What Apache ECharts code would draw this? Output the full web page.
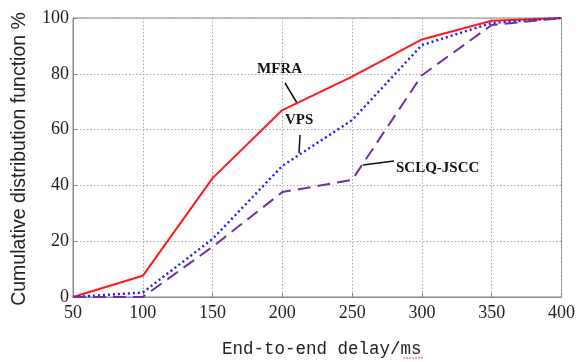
<!DOCTYPE html>
<html><head><meta charset="utf-8">
<script src="https://cdn.jsdelivr.net/npm/echarts@6/dist/echarts.min.js"></script>
<style>html,body{margin:0;padding:0;background:#fff}#c{width:578px;height:362px}</style>
</head><body><div id="c"></div>
<script>
const delays = [50, 100, 150, 200, 250, 300, 350, 400];
const mfra = [0, 7.6, 42.6, 67, 79, 92.3, 99, 100];
const vps = [0, 1.6, 20.8, 47, 63.4, 90.3, 98.2, 100];
const sclq = [0, 0, 18, 37.6, 42, 79.5, 97.5, 100];
const xTicks = [50, 100, 150, 200, 250, 300, 350, 400];
const yTicks = [0, 20, 40, 60, 80, 100];

const pair = arr => delays.map((d, i) => [d, arr[i]]);
const chart = echarts.init(document.getElementById('c'));
const gridStyle = {show: true, lineStyle: {color: '#aaa', type: [1.5, 2], width: 1}};
chart.setOption({
  animation: false,
  grid: {left: 73, right: 16, top: 18, bottom: 65, show: true, borderColor: '#888', borderWidth: 1},
  xAxis: {type: 'value', min: 50, max: 400, interval: 50,
    axisLine: {lineStyle: {color: '#888'}},
    axisTick: {inside: true, length: 4, lineStyle: {color: '#888'}},
    splitLine: gridStyle,
    axisLabel: {fontFamily: 'Liberation Serif', fontSize: 18, color: '#222', margin: 7,
      formatter: v => xTicks.includes(v) ? String(v) : ''}
  },
  yAxis: {type: 'value', min: 0, max: 100, interval: 20,
    axisLine: {show: true, lineStyle: {color: '#888'}},
    axisTick: {show: true, inside: true, length: 4, lineStyle: {color: '#888'}},
    splitLine: gridStyle,
    axisLabel: {fontFamily: 'Liberation Serif', fontSize: 18, color: '#222', margin: 4,
      formatter: v => yTicks.includes(v) ? String(v) : ''}
  },
  series: [
    {name: 'MFRA', type: 'line', data: pair(mfra), symbol: 'none',
      lineStyle: {color: '#ff1a1a', width: 2, type: 'solid'}},
    {name: 'VPS', type: 'line', data: pair(vps), symbol: 'none',
      lineStyle: {color: '#1a1aff', width: 2.4, type: [2, 3]}},
    {name: 'SCLQ-JSCC', type: 'line', data: pair(sclq), symbol: 'none',
      lineStyle: {color: '#7030a0', width: 2, type: [13, 7]}}
  ],
  graphic: [
    {type: 'text', left: 257, top: 62, style: {text: 'MFRA', font: 'bold 15px "Liberation Serif"', fill: '#111'}},
    {type: 'line', shape: {x1: 285, y1: 83, x2: 297, y2: 103}, style: {stroke: '#111', lineWidth: 1.5}},
    {type: 'text', left: 285, top: 113, style: {text: 'VPS', font: 'bold 15px "Liberation Serif"', fill: '#111'}},
    {type: 'line', shape: {x1: 300, y1: 135, x2: 299, y2: 153}, style: {stroke: '#111', lineWidth: 1.5}},
    {type: 'text', left: 396, top: 161, style: {text: 'SCLQ-JSCC', font: 'bold 15px "Liberation Serif"', fill: '#111'}},
    {type: 'line', shape: {x1: 363, y1: 165, x2: 394, y2: 161}, style: {stroke: '#111', lineWidth: 1.5}},
    {type: 'text', x: 20, y: 159, rotation: Math.PI / 2, style: {text: 'Cumulative distribution function %',
      font: '19.5px "Liberation Sans"', fill: '#222', align: 'center', verticalAlign: 'middle'}},
    {type: 'text', left: 222, top: 340, style: {text: 'End-to-end delay/ms', font: '17.5px "Liberation Mono"', fill: '#222'}},
    {type: 'line', shape: {x1: 403, y1: 358, x2: 424, y2: 358}, style: {stroke: '#e05050', lineWidth: 1, lineDash: [2, 1]}}
  ]
});
</script></body></html>
